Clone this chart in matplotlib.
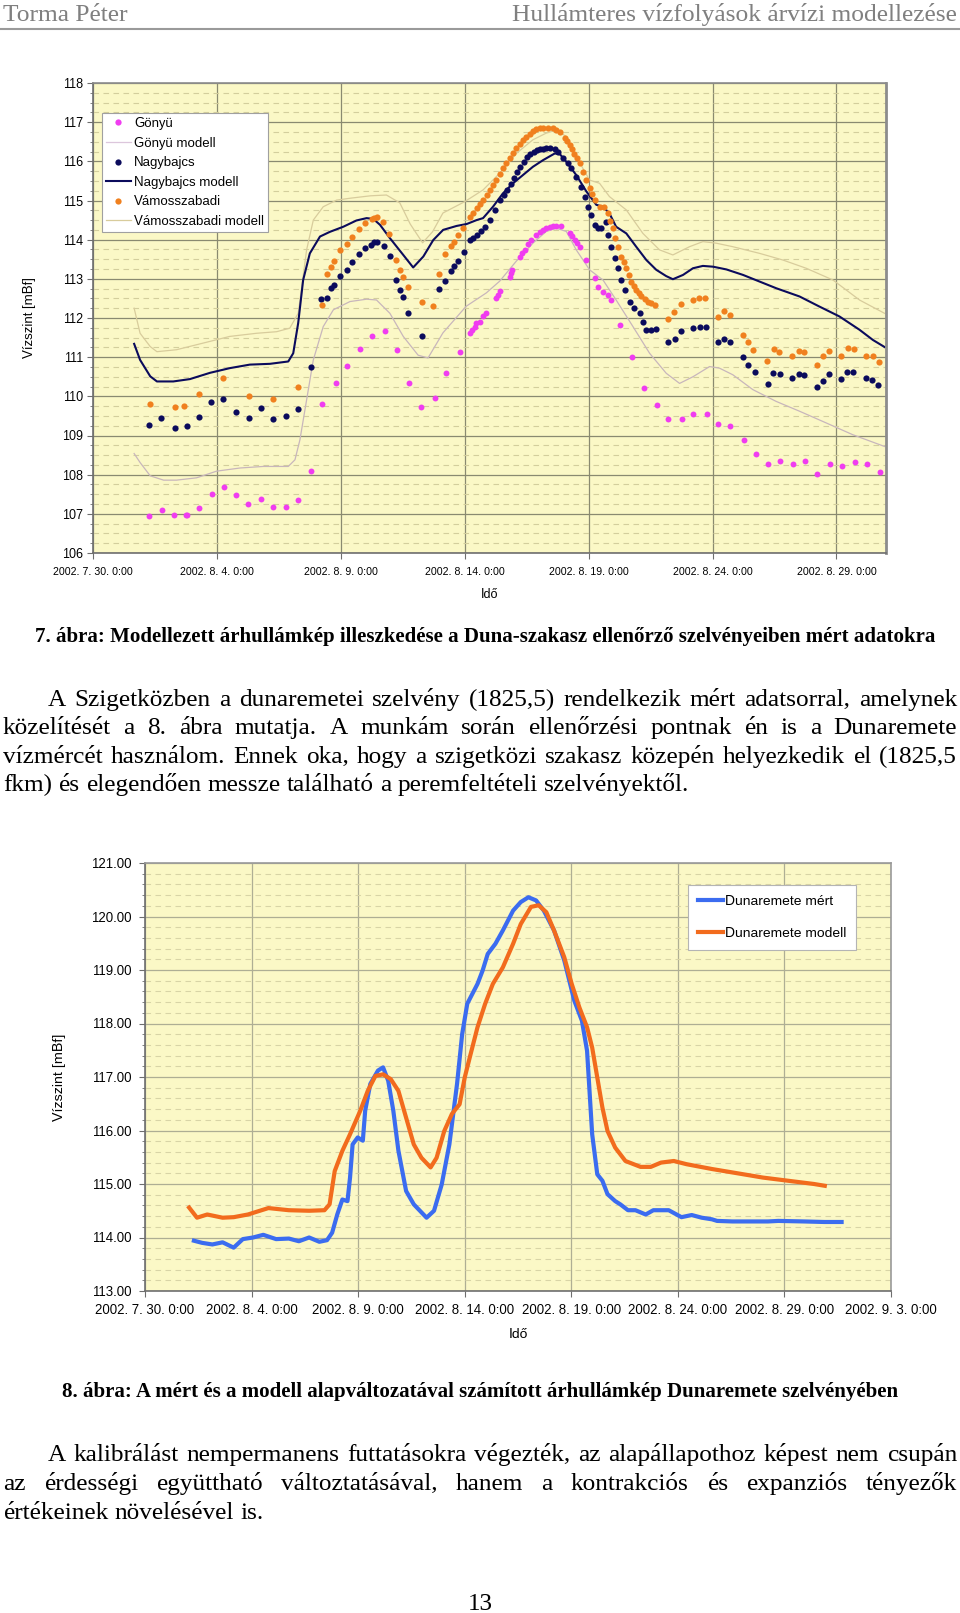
import matplotlib
matplotlib.use("Agg")
import matplotlib.pyplot as plt
import matplotlib.dates as mdates
from matplotlib.lines import Line2D
from matplotlib.ticker import FixedLocator, FuncFormatter, MultipleLocator
from datetime import datetime
import numpy as np

# --- 7. ábra: measured points (days after 2002-07-30 0:00, water level mBf) ---
gonyu_days = [2.27, 2.80, 3.27, 3.75, 3.80, 4.29, 4.81, 5.27, 5.77, 6.25, 6.79, 7.26,
              7.80, 8.27, 8.79, 9.25, 9.79, 10.26, 10.79, 11.26, 11.79, 12.25, 12.77,
              13.25, 13.79, 14.26, 14.79, 15.23, 15.31, 15.40, 15.47, 15.61, 15.74,
              15.87, 16.28, 16.35, 16.41, 16.81, 16.87, 16.92, 17.22, 17.32, 17.42,
              17.55, 17.69, 17.89, 18.02, 18.16, 18.29, 18.43, 18.56, 18.70, 18.90,
              19.24, 19.34, 19.44, 19.54, 19.64, 19.91, 20.24, 20.38, 20.58, 20.78,
              20.91, 21.25, 21.75, 22.22, 22.77, 23.21, 23.77, 24.22, 24.76, 25.24,
              25.69, 26.26, 26.76, 27.22, 27.74, 28.24, 28.75, 29.22, 29.76, 30.23,
              30.76, 31.23, 31.75]
gonyu_level = [106.94, 107.11, 106.98, 106.98, 106.98, 107.15, 107.51, 107.69, 107.49,
               107.25, 107.38, 107.17, 107.17, 107.36, 108.10, 109.81, 110.34, 110.78,
               111.20, 111.55, 111.68, 111.19, 110.35, 109.72, 109.95, 110.59, 111.12,
               111.61, 111.70, 111.78, 111.86, 111.91, 112.04, 112.12, 112.51, 112.60,
               112.68, 113.05, 113.14, 113.23, 113.57, 113.66, 113.74, 113.88, 114.00,
               114.12, 114.19, 114.25, 114.29, 114.32, 114.34, 114.34, 114.35, 114.18,
               114.09, 114.00, 113.91, 113.82, 113.48, 113.01, 112.80, 112.67, 112.58,
               112.45, 111.81, 111.01, 110.22, 109.77, 109.41, 109.43, 109.56, 109.54,
               109.29, 109.24, 108.88, 108.52, 108.26, 108.34, 108.26, 108.34, 108.01,
               108.26, 108.23, 108.33, 108.28, 108.07]

nagybajcs_days = [2.27, 2.73, 3.30, 3.80, 4.26, 4.77, 5.25, 5.79, 6.29, 6.79, 7.28, 7.78,
                  8.28, 8.79, 9.22, 9.45, 9.60, 9.73, 9.97, 10.23, 10.47, 10.74, 10.97,
                  11.22, 11.33, 11.46, 11.73, 11.98, 12.22, 12.37, 12.49, 12.73, 13.28,
                  13.98, 14.21, 14.46, 14.57, 14.73, 14.99, 15.20, 15.35, 15.49, 15.65,
                  15.82, 16.03, 16.23, 16.44, 16.58, 16.71, 16.85, 16.98, 17.12, 17.25,
                  17.38, 17.51, 17.65, 17.78, 17.90, 18.02, 18.16, 18.29, 18.46, 18.63,
                  18.76, 18.97, 19.17, 19.30, 19.50, 19.70, 19.84, 19.97, 20.11, 20.24,
                  20.38, 20.51, 20.71, 20.78, 20.91, 21.05, 21.18, 21.32, 21.45, 21.65,
                  21.85, 22.06, 22.19, 22.33, 22.53, 22.70, 23.22, 23.48, 23.71, 24.22,
                  24.48, 24.72, 25.22, 25.46, 25.69, 26.23, 26.45, 26.71, 27.22, 27.46,
                  27.72, 28.21, 28.49, 28.70, 29.22, 29.46, 29.71, 30.20, 30.43, 30.68,
                  31.19, 31.45, 31.69]
nagybajcs_level = [109.27, 109.45, 109.20, 109.25, 109.48, 109.86, 109.93, 109.60, 109.45,
                   109.70, 109.43, 109.49, 109.68, 110.75, 112.48, 112.50, 112.76, 112.85,
                   113.08, 113.23, 113.42, 113.63, 113.78, 113.87, 113.93, 113.95, 113.85,
                   113.59, 112.98, 112.72, 112.53, 112.14, 111.53, 112.74, 112.94, 113.19,
                   113.32, 113.46, 113.69, 113.98, 114.05, 114.12, 114.22, 114.33, 114.50,
                   114.76, 115.01, 115.14, 115.27, 115.42, 115.57, 115.72, 115.86, 115.99,
                   116.12, 116.19, 116.25, 116.28, 116.31, 116.32, 116.33, 116.33, 116.31,
                   116.25, 116.08, 115.95, 115.82, 115.61, 115.35, 115.10, 114.84, 114.63,
                   114.38, 114.31, 114.29, 114.46, 114.12, 113.82, 113.52, 113.27, 112.97,
                   112.72, 112.42, 112.25, 112.12, 111.91, 111.70, 111.70, 111.72, 111.38,
                   111.46, 111.68, 111.74, 111.76, 111.78, 111.38, 111.47, 111.40, 111.00,
                   110.79, 110.61, 110.32, 110.59, 110.58, 110.47, 110.58, 110.55, 110.23,
                   110.40, 110.56, 110.45, 110.62, 110.62, 110.48, 110.42, 110.30]

vamos_days = [2.28, 3.30, 3.68, 4.26, 5.24, 6.28, 7.27, 8.29, 9.24, 9.46, 9.62, 9.73, 9.96,
              10.23, 10.47, 10.74, 10.98, 11.24, 11.33, 11.46, 11.72, 11.96, 12.21, 12.37,
              12.49, 12.73, 13.27, 13.74, 13.98, 14.21, 14.46, 14.57, 14.73, 14.95, 15.20,
              15.35, 15.49, 15.62, 15.74, 15.88, 16.01, 16.15, 16.28, 16.41, 16.54, 16.68,
              16.81, 16.95, 17.08, 17.22, 17.35, 17.49, 17.62, 17.75, 17.89, 18.02, 18.16,
              18.36, 18.56, 18.70, 18.83, 19.03, 19.13, 19.23, 19.33, 19.43, 19.54, 19.64,
              19.77, 19.91, 20.04, 20.14, 20.24, 20.44, 20.64, 20.78, 20.88, 20.98, 21.08,
              21.18, 21.32, 21.42, 21.52, 21.62, 21.72, 21.82, 21.92, 22.02, 22.12, 22.26,
              22.39, 22.52, 22.66, 23.22, 23.46, 23.71, 24.22, 24.46, 24.70, 25.22, 25.45,
              25.69, 26.21, 26.45, 26.65, 27.20, 27.47, 27.70, 28.20, 28.47, 28.70, 29.21,
              29.45, 29.72, 30.19, 30.45, 30.69, 31.19, 31.46, 31.70]
vamos_level = [109.80, 109.72, 109.76, 110.05, 110.47, 110.00, 109.94, 110.24, 112.34,
               113.13, 113.30, 113.46, 113.74, 113.89, 114.06, 114.27, 114.42, 114.52,
               114.56, 114.59, 114.45, 114.15, 113.47, 113.23, 113.04, 112.79, 112.42,
               112.30, 113.13, 113.63, 113.85, 113.95, 114.11, 114.30, 114.59, 114.68,
               114.80, 114.90, 115.01, 115.14, 115.27, 115.40, 115.52, 115.67, 115.82,
               115.95, 116.08, 116.21, 116.33, 116.44, 116.54, 116.63, 116.71, 116.77,
               116.82, 116.85, 116.86, 116.86, 116.84, 116.81, 116.76, 116.59, 116.51,
               116.42, 116.31, 116.20, 116.08, 115.95, 115.74, 115.52, 115.31, 115.16,
               115.01, 114.84, 114.84, 114.67, 114.48, 114.29, 114.05, 113.82, 113.57,
               113.42, 113.27, 113.10, 112.93, 112.82, 112.72, 112.63, 112.55, 112.48,
               112.42, 112.38, 112.34, 111.97, 112.16, 112.37, 112.47, 112.50, 112.50,
               112.03, 112.17, 112.08, 111.57, 111.39, 111.19, 110.91, 111.20, 111.13,
               111.02, 111.16, 111.14, 110.79, 111.02, 111.15, 111.02, 111.23, 111.22,
               111.04, 111.02, 110.87]

# --- 7. ábra: model curves ---
gonyu_model_days = [1.66, 1.90, 2.31, 2.85, 3.37, 4.18, 4.99, 5.93, 6.87, 7.88, 8.15, 8.35,
                    8.62, 8.89, 9.29, 9.70, 10.37, 11.04, 11.44, 11.98, 12.52, 13.12, 13.52,
                    14.12, 15.06, 15.87, 16.41, 17.08, 17.75, 18.29, 18.70, 19.10, 19.50,
                    20.04, 20.58, 21.11, 21.79, 22.46, 23.13, 23.67, 24.21, 24.88, 25.28,
                    25.82, 26.63, 27.57, 28.51, 29.59, 30.66, 31.94]
gonyu_model_level = [108.54, 108.31, 107.97, 107.86, 107.86, 107.92, 108.09, 108.17, 108.21,
                     108.21, 108.38, 108.89, 109.91, 110.93, 111.78, 112.21, 112.42, 112.48,
                     112.46, 112.12, 111.53, 111.05, 110.98, 111.62, 112.30, 112.64, 112.94,
                     113.45, 113.91, 114.21, 114.29, 114.21, 113.74, 113.23, 112.97, 112.46,
                     111.78, 111.10, 110.59, 110.33, 110.50, 110.76, 110.72, 110.55, 110.17,
                     109.87, 109.62, 109.32, 109.02, 108.72]

nagybajcs_model_days = [1.66, 1.90, 2.31, 2.58, 3.24, 3.91, 4.72, 5.52, 6.33, 7.14, 7.88,
                        8.08, 8.28, 8.48, 8.75, 9.16, 9.56, 10.10, 10.63, 11.04, 11.31,
                        11.58, 11.98, 12.52, 12.92, 13.33, 13.73, 14.13, 14.67, 15.08,
                        15.48, 15.74, 16.14, 16.54, 16.95, 17.35, 17.75, 18.16, 18.63,
                        18.83, 19.10, 19.50, 19.91, 20.31, 20.58, 20.84, 21.11, 21.52,
                        21.92, 22.33, 22.73, 23.13, 23.40, 23.81, 24.21, 24.61, 25.02,
                        25.56, 26.23, 26.90, 27.57, 28.51, 29.32, 30.12, 30.93, 31.47, 31.94]
nagybajcs_model_level = [111.34, 110.93, 110.51, 110.38, 110.38, 110.44, 110.60, 110.72,
                         110.81, 110.83, 110.89, 111.10, 111.87, 112.97, 113.65, 114.08,
                         114.20, 114.33, 114.49, 114.55, 114.53, 114.38, 114.04, 113.61,
                         113.29, 113.57, 113.99, 114.25, 114.35, 114.40, 114.50, 114.55,
                         114.84, 115.18, 115.44, 115.65, 115.86, 116.03, 116.20, 116.19,
                         115.99, 115.65, 115.23, 114.89, 114.84, 114.67, 114.33, 114.16,
                         113.82, 113.48, 113.23, 113.07, 112.99, 113.10, 113.27, 113.33,
                         113.31, 113.24, 113.10, 112.93, 112.76, 112.55, 112.29, 112.04,
                         111.70, 111.44, 111.26]

vamos_model_days = [1.66, 1.90, 2.31, 2.58, 3.37, 4.45, 5.52, 6.60, 7.41, 7.94, 8.28, 8.48,
                    8.62, 8.89, 9.29, 9.83, 10.40, 11.20, 11.84, 12.38, 12.80, 13.30, 13.70,
                    14.12, 15.00, 15.74, 16.40, 17.08, 17.75, 18.29, 18.70, 19.10, 19.50,
                    20.04, 20.44, 20.84, 21.52, 22.19, 22.86, 23.40, 24.07, 24.61, 25.15,
                    25.82, 26.90, 27.84, 28.78, 29.86, 30.93, 31.94]
vamos_model_level = [112.25, 111.61, 111.27, 111.14, 111.19, 111.36, 111.53, 111.61, 111.65,
                     111.74, 112.12, 113.06, 113.74, 114.50, 114.84, 115.01, 115.06, 115.12,
                     115.14, 114.94, 114.40, 113.92, 114.20, 114.68, 114.97, 115.27, 115.69,
                     116.20, 116.55, 116.72, 116.80, 116.63, 116.12, 115.52, 115.44, 115.10,
                     114.76, 114.16, 113.74, 113.61, 113.82, 113.95, 113.91, 113.82, 113.65,
                     113.48, 113.27, 112.97, 112.46, 112.12]

# --- 8. ábra: Dunaremete ---
mert_days = [2.20, 2.68, 3.16, 3.64, 4.16, 4.59, 5.07, 5.55, 6.15, 6.75, 7.22, 7.70, 8.18,
             8.54, 8.78, 9.02, 9.26, 9.50, 9.62, 9.74, 9.98, 10.22, 10.33, 10.57, 10.93,
             11.17, 11.41, 11.65, 11.89, 12.25, 12.61, 13.21, 13.56, 13.92, 14.28, 14.64,
             14.88, 15.12, 15.60, 15.84, 16.08, 16.44, 16.79, 17.27, 17.63, 17.99, 18.35,
             18.71, 19.19, 19.67, 20.14, 20.50, 20.74, 20.98, 21.22, 21.46, 21.70, 22.06,
             22.30, 22.66, 23.01, 23.49, 23.85, 24.57, 25.17, 25.65, 26.12, 26.60, 26.84,
             27.56, 28.52, 29.23, 29.71, 30.91, 31.87, 32.78]
mert_level = [113.95, 113.90, 113.87, 113.91, 113.81, 113.97, 114.00, 114.05, 113.97, 113.98,
              113.93, 114.00, 113.92, 113.95, 114.09, 114.43, 114.71, 114.68, 115.12, 115.74,
              115.87, 115.81, 116.37, 116.87, 117.12, 117.18, 116.93, 116.37, 115.62, 114.87,
              114.62, 114.37, 114.50, 114.99, 115.74, 116.87, 117.80, 118.37, 118.74, 118.99,
              119.30, 119.49, 119.74, 120.11, 120.27, 120.36, 120.30, 120.11, 119.74, 119.18,
              118.43, 118.05, 117.49, 115.93, 115.18, 115.06, 114.81, 114.68, 114.62, 114.51,
              114.51, 114.43, 114.51, 114.51, 114.38, 114.42, 114.37, 114.34, 114.31, 114.30,
              114.30, 114.30, 114.31, 114.30, 114.29, 114.29]

modell_days = [2.01, 2.44, 2.92, 3.64, 4.16, 4.83, 5.79, 6.75, 7.70, 8.42, 8.66, 8.90, 9.26,
               9.62, 10.10, 10.45, 10.81, 11.17, 11.53, 11.89, 12.25, 12.61, 12.97, 13.40,
               13.68, 14.04, 14.40, 14.76, 15.00, 15.24, 15.60, 15.96, 16.32, 16.79, 17.27,
               17.63, 18.11, 18.47, 18.83, 19.19, 19.67, 20.02, 20.38, 20.74, 20.98, 21.22,
               21.46, 21.70, 22.06, 22.54, 23.25, 23.73, 24.21, 24.81, 25.41, 26.60, 27.80,
               28.99, 30.19, 31.39, 31.99]
modell_level = [114.59, 114.37, 114.43, 114.37, 114.38, 114.43, 114.55, 114.51, 114.50,
                114.51, 114.62, 115.24, 115.62, 115.93, 116.37, 116.74, 117.02, 117.05,
                116.96, 116.74, 116.24, 115.74, 115.49, 115.31, 115.49, 115.99, 116.31,
                116.49, 116.99, 117.37, 117.93, 118.37, 118.74, 119.05, 119.49, 119.86,
                120.18, 120.21, 120.08, 119.74, 119.24, 118.74, 118.30, 117.93, 117.55,
                116.99, 116.43, 115.99, 115.68, 115.43, 115.32, 115.32, 115.40, 115.43,
                115.37, 115.28, 115.20, 115.12, 115.06, 115.00, 114.96]

para1 = ["A Szigetközben a dunaremetei szelvény (1825,5) rendelkezik mért adatsorral, amelynek",
         "közelítését a 8. ábra mutatja. A munkám során ellenőrzési pontnak én is a Dunaremete",
         "vízmércét használom. Ennek oka, hogy a szigetközi szakasz közepén helyezkedik el (1825,5",
         "fkm) és elegendően messze található a peremfeltételi szelvényektől."]
para2 = ["A kalibrálást nempermanens futtatásokra végezték, az alapállapothoz képest nem csupán",
         "az érdességi együttható változtatásával, hanem a kontrakciós és expanziós tényezők",
         "értékeinek növelésével is."]

W, H = 960, 1613
BG = "#fbf8c6"
MAGENTA = "#f03cf0"
NAVY = "#0b0b5c"
ORANGE = "#f0801e"
SERIF = "Liberation Serif"

plt.rcParams["font.family"] = ["Liberation Sans", "DejaVu Sans"]
# bytecode hinting keeps separately drawn words on one baseline
plt.rcParams["text.hinting"] = "native"

fig = plt.figure(figsize=(W / 100, H / 100), dpi=100)
fig.patch.set_facecolor("white")


def fx(x):
    return x / W


def fy(y):
    return 1 - y / H


START = mdates.date2num(datetime(2002, 7, 30))


def dates(days):
    return START + np.asarray(days)


def date_label(v, pos=None):
    d = mdates.num2date(v)
    return f"{d.year}. {d.month}. {d.day}. {d.hour}:{d.minute:02d}"


def style_axes(ax, grid_color, minor_color, spine_color):
    ax.set_facecolor(BG)
    ax.set_axisbelow(True)
    ax.grid(which="major", color=grid_color, lw=0.9)
    ax.grid(which="minor", axis="y", color=minor_color, lw=0.8, ls=(0, (5, 4)))
    for s in ax.spines.values():
        s.set_color(spine_color)
        s.set_linewidth(1.2)
    ax.spines["left"].set_color("#6e6e6e")
    ax.spines["bottom"].set_color("#6e6e6e")
    ax.tick_params(which="major", length=4, color="#6e6e6e", pad=3)
    ax.tick_params(which="minor", length=2, color="#6e6e6e")
    ax.tick_params(axis="x", which="minor", length=0)


# ---------------- chart 1 ----------------
ax1 = fig.add_axes([fx(93), fy(553), (886 - 93) / W, (553 - 83) / H])
style_axes(ax1, "#8a8a70", "#d3ce9c", "#8c8c8c")
ax1.spines["right"].set_linewidth(2)

ax1.plot(dates(gonyu_model_days), gonyu_model_level, color="#c8b6bc", lw=0.9, zorder=2)
ax1.plot(dates(vamos_model_days), vamos_model_level, color="#d8cc9c", lw=0.9, zorder=2)
ax1.plot(dates(nagybajcs_model_days), nagybajcs_model_level, color=NAVY, lw=1.5, zorder=2)
ax1.scatter(dates(gonyu_days), gonyu_level, s=18, color=MAGENTA, lw=0, zorder=3)
ax1.scatter(dates(nagybajcs_days), nagybajcs_level, s=20, color=NAVY, lw=0, zorder=3)
ax1.scatter(dates(vamos_days), vamos_level, s=20, color=ORANGE, lw=0, zorder=3)

ax1.set_xlim(START, START + 32)
ax1.set_ylim(106, 118)
ax1.xaxis.set_major_locator(FixedLocator(START + np.arange(0, 32, 5)))
ax1.xaxis.set_major_formatter(FuncFormatter(date_label))
ax1.yaxis.set_major_locator(MultipleLocator(1))
ax1.yaxis.set_minor_locator(MultipleLocator(0.25))
ax1.tick_params(axis="x", labelsize=7.7, pad=6)
ax1.tick_params(axis="y", labelsize=9)

handles1 = [
    Line2D([], [], ls="", marker="o", ms=4.5, mew=0, color=MAGENTA),
    Line2D([], [], color="#dcc6dc", lw=0.9),
    Line2D([], [], ls="", marker="o", ms=4.5, mew=0, color=NAVY),
    Line2D([], [], color=NAVY, lw=1.5),
    Line2D([], [], ls="", marker="o", ms=4.5, mew=0, color=ORANGE),
    Line2D([], [], color="#d8cc9c", lw=0.9),
]
labels1 = ["Gönyü", "Gönyü modell", "Nagybajcs", "Nagybajcs modell",
           "Vámosszabadi", "Vámosszabadi modell"]
leg1 = ax1.legend(handles1, labels1, loc="upper left", bbox_to_anchor=(fx(102), fy(113)),
                  bbox_transform=fig.transFigure, fontsize=9.5, fancybox=False,
                  framealpha=1, edgecolor="#a0a0a0", borderpad=0.3, borderaxespad=0,
                  handlelength=1.9, handletextpad=0.25, labelspacing=0.5)
leg1.get_frame().set_linewidth(0.8)

fig.text(fx(30), fy(318), "Vízszint [mBf]", rotation=90, ha="center", va="center", fontsize=9.5)
fig.text(fx(490), fy(595), "Idő", ha="center", va="center", fontsize=9)

# ---------------- chart 2 ----------------
ax2 = fig.add_axes([fx(145), fy(1291), (891 - 145) / W, (1291 - 863) / H])
style_axes(ax2, "#aeae94", "#d8d4a6", "#9a9a9a")

ax2.plot(dates(mert_days), mert_level, color="#3b6cf0", lw=3, solid_capstyle="butt")
ax2.plot(dates(modell_days), modell_level, color="#f26b1d", lw=3, solid_capstyle="butt")

ax2.set_xlim(START, START + 35)
ax2.set_ylim(113, 121)
ax2.xaxis.set_major_locator(FixedLocator(START + np.arange(0, 36, 5)))
ax2.xaxis.set_major_formatter(FuncFormatter(date_label))
ax2.yaxis.set_major_locator(MultipleLocator(1))
ax2.yaxis.set_minor_locator(MultipleLocator(0.2))
ax2.yaxis.set_major_formatter(FuncFormatter(lambda v, p: f"{v:.2f}"))
ax2.tick_params(axis="x", labelsize=9.5, pad=5)
ax2.tick_params(axis="y", labelsize=9.5, pad=5)

handles2 = [Line2D([], [], color="#3b6cf0", lw=3), Line2D([], [], color="#f26b1d", lw=3)]
leg2 = ax2.legend(handles2, ["Dunaremete mért", "Dunaremete modell"], loc="upper left",
                  bbox_to_anchor=(fx(688), fy(885)), bbox_transform=fig.transFigure,
                  fontsize=10, fancybox=False, framealpha=1, edgecolor="#b4b4b4",
                  borderpad=0.7, borderaxespad=0, handlelength=1.85, handletextpad=0.1,
                  labelspacing=1.4)
leg2.get_frame().set_linewidth(0.8)

fig.text(fx(59), fy(1077), "Vízszint [mBf]", rotation=90, ha="center", va="center", fontsize=10.3)
fig.text(fx(518), fy(1335), "Idő", ha="center", va="center", fontsize=10)

# ---------------- page text ----------------
fig.text(fx(3), fy(21), "Torma Péter", family=SERIF, fontsize=18.3, color="#808080", va="baseline")
fig.text(fx(957), fy(21), "Hullámteres vízfolyások árvízi modellezése", family=SERIF,
         fontsize=18.3, color="#808080", va="baseline", ha="right")
fig.add_artist(Line2D([0, 1], [fy(29), fy(29)], color="#9a9a9a", lw=1.5,
                      transform=fig.transFigure))

fig.text(fx(485), fy(642), "7. ábra: Modellezett árhullámkép illeszkedése a Duna-szakasz "
         "ellenőrző szelvényeiben mért adatokra", family=SERIF, fontsize=15,
         fontweight="bold", ha="center", va="baseline")
fig.text(fx(480), fy(1397), "8. ábra: A mért és a modell alapváltozatával számított "
         "árhullámkép Dunaremete szelvényében", family=SERIF, fontsize=15,
         fontweight="bold", ha="center", va="baseline")
fig.text(fx(480), fy(1610), "13", family=SERIF, fontsize=18, ha="center", va="baseline")


def put_paragraph(lines, x0, x1, baselines, indent, size):
    # justified block: every word is placed separately, gaps share the slack
    r = fig.canvas.get_renderer()
    for i, (line, yb) in enumerate(zip(lines, baselines)):
        words = line.split()
        left = x0 + (indent if i == 0 else 0)
        items = [fig.text(0, 0, w, family=SERIF, fontsize=size, va="baseline") for w in words]
        widths = [t.get_window_extent(r).width for t in items]
        if i == len(lines) - 1:
            gap = size * 0.25 * 100 / 72
        else:
            gap = (x1 - left - sum(widths)) / (len(words) - 1)
        x = left
        for t, w in zip(items, widths):
            t.set_position((fx(x), fy(yb)))
            x += w + gap


put_paragraph(para1, 3, 957, [706, 734, 763, 791], 45, 18.2)
put_paragraph(para2, 3, 957, [1461, 1490, 1519], 45, 18.2)

fig.savefig("out.png", dpi=100, facecolor="white")
